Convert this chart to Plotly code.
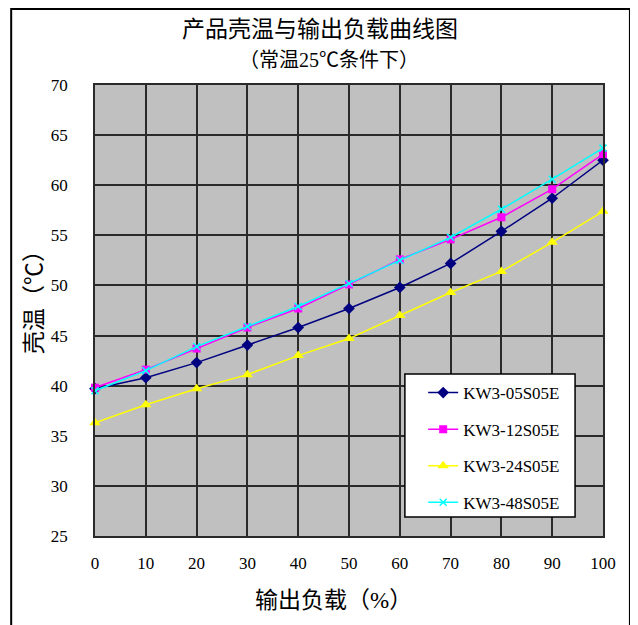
import plotly.graph_objects as go

load = [0, 10, 20, 30, 40, 50, 60, 70, 80, 90, 100]
kw05 = [39.7, 40.8, 42.3, 44.05, 45.8, 47.7, 49.8, 52.2, 55.4, 58.7, 62.5]
kw12 = [39.8, 41.6, 43.7, 45.8, 47.7, 50.1, 52.6, 54.6, 56.8, 59.6, 63.1]
kw24 = [36.3, 38.1, 39.7, 41.1, 43.0, 44.7, 47.0, 49.3, 51.4, 54.3, 57.4]
kw48 = [39.5, 41.5, 43.9, 45.9, 47.9, 50.2, 52.5, 54.8, 57.6, 60.6, 63.7]
names = ["KW3-05S05E", "KW3-12S05E", "KW3-24S05E", "KW3-48S05E"]
x_ticks = [0, 10, 20, 30, 40, 50, 60, 70, 80, 90, 100]
y_ticks = [25, 30, 35, 40, 45, 50, 55, 60, 65, 70]

FONT = "Liberation Serif, Noto Sans CJK SC"

fig = go.Figure()
styles = [
    (kw05, "#000080", dict(symbol="diamond", size=9, color="#000080")),
    (kw12, "#FF00FF", dict(symbol="square", size=8, color="#FF00FF")),
    (kw24, "#FFFF00", dict(symbol="triangle-up", size=10, color="#FFFF00")),
    (kw48, "#00FFFF", dict(symbol="x-thin", size=7, color="#00FFFF",
                          line=dict(color="#00FFFF", width=1.5))),
]
for i, (vals, col, mk) in enumerate(styles):
    fig.add_trace(go.Scatter(
        x=load, y=vals, name=names[i], mode="lines+markers",
        line=dict(color=col, width=1.5), marker=mk,
        legendgroup=str(i), cliponaxis=False,
    ))

fig.update_layout(
    width=630, height=617,
    margin=dict(l=87, r=35, t=77, b=89),
    paper_bgcolor="white", plot_bgcolor="#C0C0C0",
    font=dict(family=FONT, size=17, color="black"),
    showlegend=True,
    legend=dict(
        x=0.646, y=0.357, xanchor="left", yanchor="top",
        bgcolor="rgba(0,0,0,0)", borderwidth=0,
        font=dict(family=FONT, size=17), tracegroupgap=11.5,
    ),
    xaxis=dict(
        range=[0, 100], tickvals=x_ticks, showgrid=True,
        gridcolor="#2a2a2a", gridwidth=1.6, zeroline=False,
        showline=True, linecolor="#2a2a2a", linewidth=1.6, mirror=True,
        ticks="outside", ticklen=11, tickcolor="rgba(0,0,0,0)",
    ),
    yaxis=dict(
        range=[25, 70], tickvals=y_ticks, showgrid=True,
        gridcolor="#2a2a2a", gridwidth=1.6, zeroline=False,
        showline=True, linecolor="#2a2a2a", linewidth=1.6, mirror=True,
        ticks="outside", ticklen=22, tickcolor="rgba(0,0,0,0)",
    ),
    annotations=[
        dict(text="产品壳温与输出负载曲线图", xref="paper", yref="paper",
             x=0.443, y=1.122, xanchor="center", yanchor="middle",
             showarrow=False, font=dict(size=23)),
        dict(text="（常温25℃条件下）", xref="paper", yref="paper",
             x=0.46, y=1.055, xanchor="center", yanchor="middle",
             showarrow=False, font=dict(size=20)),
        dict(text="输出负载（%）", xref="paper", yref="paper",
             x=0.47, y=-0.142, xanchor="center", yanchor="middle",
             showarrow=False, font=dict(size=23)),
        dict(text="壳温（℃）", xref="paper", yref="paper", textangle=-90,
             x=-0.118, y=0.53, xanchor="center", yanchor="middle",
             showarrow=False, font=dict(size=23)),
    ],
    shapes=[
        dict(type="rect", xref="paper", yref="paper",
             x0=-0.165, x1=1.053, y0=-0.25, y1=1.1685,
             line=dict(color="black", width=2), fillcolor="rgba(0,0,0,0)",
             layer="below"),
        dict(type="rect", xref="paper", yref="paper",
             x0=0.610, x1=0.945, y0=0.042, y1=0.359,
             line=dict(color="black", width=1.5), fillcolor="white",
             layer="above"),
    ],
)

fig.write_html("out.html")
